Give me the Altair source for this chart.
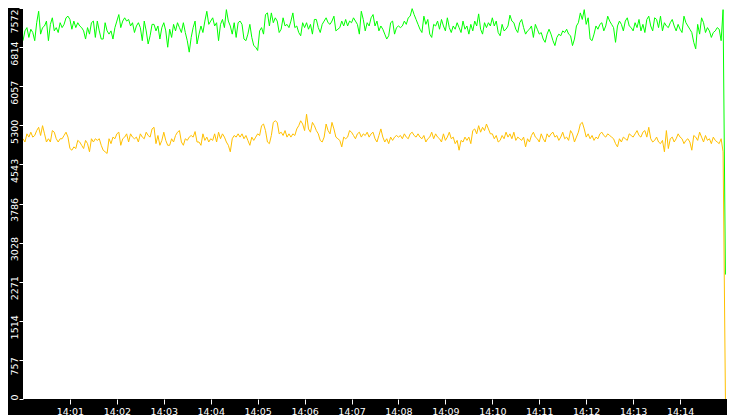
import altair as alt
import pandas as pd

# Series values: one sample every 2.5 s from 14:00:00,
# the last sample (the drop) at 14:14:58
green_values = [
    6939, 7129, 7192, 7002, 7161, 7097, 6939, 7287, 7509, 7066,
    7192, 7224, 7319, 6939, 7255, 7382, 7129, 7192, 7097, 7287,
    7192, 7255, 7382, 7414, 7350, 7161, 7319, 7192, 7287, 7224,
    7192, 7129, 6971, 7192, 7066, 7287, 7319, 7002, 7319, 7129,
    6971, 6971, 7287, 7129, 7066, 7129, 6971, 7192, 7319, 7445,
    7192, 7319, 7382, 7319, 7350, 7224, 7287, 7097, 7224, 7287,
    7192, 6939, 7319, 7129, 6876, 7034, 7255, 7255, 7129, 7224,
    6971, 7192, 7287, 7129, 6812, 7161, 7002, 7255, 7129, 7287,
    7192, 7097, 7287, 7097, 6939, 6717, 7002, 7192, 7319, 6876,
    7066, 7224, 7097, 7319, 7509, 7255, 7319, 7382, 7224, 7287,
    6939, 7255, 7350, 7192, 7540, 7319, 7224, 7066, 7287, 7002,
    7287, 7319, 7255, 6971, 6939, 7066, 7255, 7002, 6844, 6812,
    6749, 7129, 7192, 7066, 7445, 7477, 7224, 7477, 7287, 7382,
    7319, 7097, 7161, 7382, 7224, 7255, 7192, 7319, 7477, 7192,
    7224, 7097, 7034, 7287, 7192, 7287, 7161, 7255, 7066, 7350,
    7350, 7192, 7097, 7255, 7319, 7382, 7287, 7255, 7319, 7414,
    7129, 7161, 7192, 7319, 7224, 7350, 7224, 7319, 7287, 7382,
    7319, 7255, 7066, 7509, 7350, 7129, 7287, 7224, 7382, 7445,
    7224, 7319, 7129, 7224, 7161, 7066, 6971, 7034, 7287, 7319,
    7066, 7192, 7224, 7192, 7224, 7319, 7255, 7382, 7414, 7559,
    7445, 7350, 7255, 7161, 7097, 7414, 7255, 7350, 7066, 7002,
    7255, 7224, 7319, 7161, 7350, 7224, 7129, 7382, 7192, 7097,
    7224, 7161, 7287, 7192, 7097, 7319, 7161, 7224, 7066, 7255,
    7129, 7319, 7224, 7458, 7161, 7066, 7287, 7192, 7287, 7224,
    7382, 7224, 7319, 7097, 7034, 7255, 7129, 7161, 7224, 7433,
    7319, 7287, 7161, 7097, 7287, 7350, 7192, 7066, 7129, 7161,
    7224, 7002, 7255, 7161, 7066, 7097, 6971, 6907, 7066, 7161,
    7066, 6939, 6844, 7002, 7066, 7034, 7129, 7097, 7161, 7066,
    7034, 6844, 6971, 7224, 7287, 7477, 7350, 7540, 7255, 7382,
    6971, 6939, 7066, 7224, 7161, 7255, 7287, 7129, 7224, 7414,
    7319, 7255, 7192, 6907, 7224, 7319, 7255, 7129, 7319, 7382,
    7224, 7192, 7129, 7287, 7192, 7350, 7129, 7255, 7097, 7350,
    7414, 7224, 7129, 7382, 7350, 7192, 7414, 7129, 7287, 7224,
    7192, 7287, 7350, 7224, 7129, 7255, 7161, 7097, 7414, 7287,
    7224, 7161, 7097, 6907, 6781, 7255, 7066, 7382, 7287, 7097,
    7192, 7129, 7002, 7097, 7129, 7192, 7161, 6939, 7540,
    2410,
]

yellow_values = [
    5040, 4977, 5135, 5072, 5167, 5072, 5103, 5198, 5262, 5103,
    5293, 5135, 4977, 5040, 4977, 5198, 5167, 5040, 4977, 5040,
    5040, 5103, 5167, 5072, 4850, 4818, 4882, 4850, 5008, 4977,
    4913, 4850, 5008, 4945, 4787, 5040, 4977, 5040, 5008, 5040,
    4913, 4818, 4787, 4755, 5040, 4945, 5072, 5040, 5135, 5167,
    4913, 5040, 5072, 5135, 4977, 5135, 5072, 5040, 5072, 4977,
    5135, 5072, 5040, 5167, 5103, 5072, 5230, 5262, 4945, 5103,
    4913, 5008, 5167, 5008, 4913, 4913, 5040, 4977, 5103, 5167,
    5198, 4977, 4913, 5040, 5008, 5072, 5103, 5072, 5179, 4977,
    4977, 4913, 5135, 5008, 5072, 4977, 5040, 5008, 5135, 4977,
    5167, 5040, 5135, 5072, 4977, 4913, 4787, 5040, 5103, 5072,
    5135, 5072, 5135, 5040, 5103, 5008, 4913, 5072, 5008, 5072,
    5135, 5103, 5293, 5325, 5198, 4977, 4945, 5103, 5357, 5388,
    5357, 5135, 5167, 5103, 5198, 5072, 5135, 5072, 5135, 5103,
    5230, 5293, 5388, 5325, 5198, 5515, 5230, 5167, 5357, 5293,
    5198, 5135, 5008, 4977, 5072, 5325, 5198, 5135, 5357, 5230,
    5072, 5040, 5008, 4882, 5072, 5040, 5072, 5198, 5167, 5103,
    5040, 5135, 5167, 5072, 5135, 5103, 5167, 5072, 5135, 5167,
    5040, 4977, 5103, 5230, 5072, 4977, 5040, 4945, 5072, 5008,
    5072, 5103, 5072, 5103, 5040, 5135, 5072, 5040, 5135, 5167,
    5103, 5072, 5135, 5072, 5040, 5103, 4977, 5040, 5072, 5167,
    5040, 5135, 5072, 5040, 4977, 5135, 5008, 5072, 5167, 5040,
    5072, 4945, 5008, 4818, 5008, 4977, 5072, 5008, 5072, 4945,
    5198, 5230, 5135, 5293, 5167, 5262, 5198, 5325, 5230, 5135,
    5135, 5040, 5103, 4977, 5008, 5103, 5040, 5167, 5072, 5135,
    5040, 5167, 5008, 5072, 5040, 5008, 5072, 4882, 5040, 4977,
    5103, 5167, 5072, 5040, 4977, 5135, 5040, 4977, 5135, 5072,
    5135, 5167, 5072, 5103, 5008, 5072, 5167, 5040, 5072, 5008,
    5198, 5135, 4977, 5072, 5167, 5325, 5357, 5230, 5072, 5135,
    5040, 5103, 5008, 5072, 5040, 5135, 5167, 5103, 5072, 5135,
    5103, 5072, 5040, 4945, 4882, 5040, 4977, 5072, 5040, 5008,
    5135, 5103, 5072, 5135, 5198, 5103, 5072, 5167, 5198, 5072,
    5262, 5040, 4977, 5008, 5072, 4977, 4945, 5008, 4787, 5198,
    4850, 5040, 5072, 4977, 5040, 5135, 5072, 5040, 4945, 5008,
    5040, 4977, 4818, 5103, 5072, 5008, 5167, 5072, 4977, 5103,
    5008, 5040, 4945, 5072, 5008, 4977, 4945, 5040, 4787,
    0,
]

y_tick_values = [0, 757.2, 1514.4, 2271.6, 3028.8, 3786, 4543.2, 5300.4, 6057.6, 6814.8, 7572]
x_tick_minutes = list(range(1, 15))

START = pd.Timestamp("2024-01-01 14:00:00")
LAST = pd.Timestamp("2024-01-01 14:14:58")


def series_frame(values):
    times = [START + pd.Timedelta(seconds=2.5 * i) for i in range(len(values) - 1)]
    times.append(LAST)
    return pd.DataFrame({"time": times, "value": values})


green_df = series_frame(green_values)
yellow_df = series_frame(yellow_values)

FONT = "DejaVu Sans"
W, H = 704, 391
LEFT, BOTTOM = 15, 16

x_axis = alt.Axis(
    values=[alt.DateTime(year=2024, month=1, date=1, hours=14, minutes=m) for m in x_tick_minutes],
    format="%H:%M",
    title=None,
    grid=False,
    domain=False,
    tickColor="white",
    tickSize=5,
    labelColor="white",
    labelFont=FONT,
    labelFontSize=9.5,
    labelPadding=2,
    labelBaseline="top",
    labelFlush=False,
    labelOverlap=False,
    zindex=1,
)

y_axis = alt.Axis(
    values=y_tick_values,
    labelExpr="'' + floor(datum.value)",
    title=None,
    grid=False,
    domain=False,
    tickColor="white",
    tickSize=4,
    labelColor="white",
    labelFont=FONT,
    labelFontSize=9.5,
    labelPadding=2,
    labelAngle=270,
    labelAlign="center",
    labelBaseline="alphabetic",
    labelFlush=False,
    labelOverlap=False,
    zindex=1,
    labelOffset={
        "condition": [
            {"test": "datum.value == 0", "value": -2},
            {"test": "datum.value > 7500", "value": 13},
        ],
        "value": 6,
    },
)

x_enc = alt.X(
    "time:T",
    axis=x_axis,
    scale=alt.Scale(
        domain=[
            alt.DateTime(year=2024, month=1, date=1, hours=14, minutes=0),
            alt.DateTime(year=2024, month=1, date=1, hours=14, minutes=15),
        ],
        nice=False,
    ),
)
y_enc = alt.Y("value:Q", axis=y_axis, scale=alt.Scale(domain=[0, 7572], nice=False, zero=False))

# black frame strips (left axis band and bottom axis band)
strip_df = pd.DataFrame({"k": [0]})
left_strip = alt.Chart(strip_df).mark_rect(color="black").encode(
    x=alt.value(-LEFT), x2=alt.value(0), y=alt.value(0), y2=alt.value(H + BOTTOM)
)
bottom_strip = alt.Chart(strip_df).mark_rect(color="black").encode(
    x=alt.value(-LEFT), x2=alt.value(W), y=alt.value(H), y2=alt.value(H + BOTTOM)
)

green_line = alt.Chart(green_df).mark_line(color="#00FF00", strokeWidth=1, clip=True).encode(x=x_enc, y=y_enc)
yellow_line = alt.Chart(yellow_df).mark_line(color="#FFC000", strokeWidth=1, clip=True).encode(x=x_enc, y=y_enc)

chart = (
    alt.layer(left_strip, bottom_strip, green_line, yellow_line)
    .properties(
        width=W,
        height=H,
        autosize=alt.AutoSizeParams(type="none"),
        padding={"left": LEFT, "top": 0, "right": 0, "bottom": BOTTOM},
        background="white",
    )
    .configure_view(fill="white", stroke="transparent")
)

chart.save("out.html", embed_options={"renderer": "svg", "actions": False})
